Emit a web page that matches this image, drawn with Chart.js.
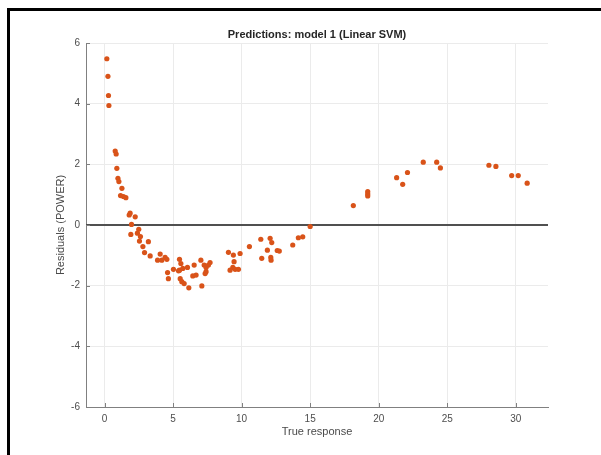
<!DOCTYPE html>
<html>
<head>
<meta charset="utf-8">
<script src="https://cdn.jsdelivr.net/npm/chart.js@4"></script>
<style>
  html, body { margin: 0; padding: 0; background: #fff; }
  #wrap { width: 601px; height: 455px; }
</style>
</head>
<body>
<div id="wrap"><canvas id="residChart" width="601" height="455"></canvas></div>
<script>
// true response vs residual
const trueResponse = [
  0.17, 0.25, 0.29, 0.32, 0.78, 0.85, 0.90, 0.98, 1.05, 1.27,
  1.17, 1.38, 1.56, 1.87, 1.80, 2.24, 1.97, 1.92, 2.50, 2.40,
  2.62, 2.55, 3.20, 2.80, 2.92, 3.33, 4.06, 3.87, 4.18, 4.42,
  4.55, 4.60, 4.66, 5.03, 5.47, 5.57, 5.47, 5.71, 6.05, 5.40,
  5.52, 5.64, 5.81, 6.15, 6.54, 6.44, 6.68, 7.10, 7.03, 7.27,
  7.41, 7.58, 7.70, 7.41, 7.34, 9.04, 9.40, 9.89, 10.57, 9.45,
  9.36, 9.16, 9.53, 9.77, 11.40, 11.47, 11.88, 12.08, 12.20, 12.13,
  12.15, 12.60, 12.75, 13.73, 14.14, 14.46, 15.00, 18.15, 19.20, 19.20,
  19.20, 21.31, 21.75, 22.10, 23.25, 24.23, 24.50, 28.04, 28.55, 29.70,
  30.18, 30.83
];
const residuals = [
  5.48, 4.90, 4.27, 3.94, 2.44, 2.34, 1.87, 1.54, 1.43, 1.21,
  0.97, 0.94, 0.90, 0.39, 0.33, 0.27, 0.02, -0.31, -0.14, -0.27,
  -0.38, -0.53, -0.55, -0.71, -0.91, -1.02, -0.96, -1.16, -1.16, -1.07,
  -1.13, -1.57, -1.77, -1.46, -1.13, -1.27, -1.49, -1.43, -1.40, -1.51,
  -1.77, -1.87, -1.93, -2.07, -1.32, -1.68, -1.65, -2.01, -1.16, -1.32,
  -1.40, -1.32, -1.24, -1.54, -1.60, -0.90, -0.99, -0.94, -0.71, -1.21,
  -1.40, -1.49, -1.46, -1.46, -0.47, -1.10, -0.83, -0.44, -0.58, -1.07,
  -1.16, -0.84, -0.86, -0.66, -0.42, -0.39, -0.05, 0.64, 1.10, 1.02,
  0.96, 1.56, 1.34, 1.73, 2.07, 2.07, 1.88, 1.97, 1.93, 1.63,
  1.63, 1.38
];
const xRange = [-1.35, 32.35];
const yRange = [-6, 6];
const xTicks = [0, 5, 10, 15, 20, 25, 30];
const yTicks = [-6, -4, -2, 0, 2, 4, 6];

const FONT = '"Liberation Sans", Arial, Helvetica, sans-serif';

// title, axis labels, inward tick marks, frame lines
const decor = {
  id: 'decor',
  afterDatasetsDraw(chart) {
    const { ctx, chartArea: a, scales } = chart;
    ctx.save();
    ctx.strokeStyle = '#808080';
    ctx.lineWidth = 1;
    ctx.beginPath();
    xTicks.forEach(v => {
      const px = Math.round(scales.x.getPixelForValue(v)) + 0.5;
      ctx.moveTo(px, a.bottom); ctx.lineTo(px, a.bottom - 4);
    });
    yTicks.forEach(v => {
      const py = Math.round(scales.y.getPixelForValue(v)) + 0.5;
      ctx.moveTo(a.left, py); ctx.lineTo(a.left + 4, py);
    });
    ctx.stroke();

    ctx.fillStyle = '#262626';
    ctx.textAlign = 'center';
    ctx.textBaseline = 'middle';
    ctx.font = 'bold 11px ' + FONT;
    ctx.fillText('Predictions: model 1 (Linear SVM)', (a.left + a.right) / 2, 35);

    ctx.fillStyle = '#4a4a4a';
    ctx.font = '11px ' + FONT;
    ctx.fillText('True response', (a.left + a.right) / 2, 432);
    ctx.translate(61, (a.top + a.bottom) / 2);
    ctx.rotate(-Math.PI / 2);
    ctx.fillText('Residuals (POWER)', 0, 0);
    ctx.restore();

    ctx.save();
    ctx.fillStyle = '#000';
    ctx.fillRect(7, 8, 601 - 7, 3);
    ctx.fillRect(7, 8, 3, 455 - 8);
    ctx.restore();
  }
};

const ctxResid = document.getElementById('residChart').getContext('2d');
const residChart = new Chart(ctxResid, {
  type: 'scatter',
  data: {
    datasets: [{
      label: 'Residuals',
      data: trueResponse.map((x, i) => ({ x: x, y: residuals[i] })),
      backgroundColor: 'rgb(217, 83, 25)',
      borderWidth: 0,
      pointRadius: 2.6,
      order: 1
    }, {
      type: 'line',
      label: 'zero',
      data: [{ x: xRange[0], y: 0 }, { x: xRange[1], y: 0 }],
      borderColor: '#505050',
      borderWidth: 2,
      pointRadius: 0,
      order: 2
    }]
  },
  options: {
    responsive: false,
    animation: false,
    devicePixelRatio: 1,
    layout: { padding: { top: 43, right: 53, bottom: 0, left: 0 } },
    plugins: { legend: { display: false }, tooltip: { enabled: false } },
    scales: {
      x: {
        type: 'linear', min: xRange[0], max: xRange[1],
        afterBuildTicks: s => { s.ticks = xTicks.map(v => ({ value: v })); },
        afterFit: s => { s.height = 48; },
        grid: { color: '#ebebeb', drawTicks: false },
        border: { color: '#808080' },
        ticks: { padding: 6, color: '#4d4d4d', font: { family: FONT, size: 10 } }
      },
      y: {
        type: 'linear', min: yRange[0], max: yRange[1],
        afterBuildTicks: s => { s.ticks = yTicks.map(v => ({ value: v })); },
        afterFit: s => { s.width = 86; },
        grid: { color: '#ebebeb', drawTicks: false },
        border: { color: '#808080' },
        ticks: { padding: 6, color: '#4d4d4d', font: { family: FONT, size: 10 } }
      }
    }
  },
  plugins: [decor]
});
</script>
</body>
</html>
